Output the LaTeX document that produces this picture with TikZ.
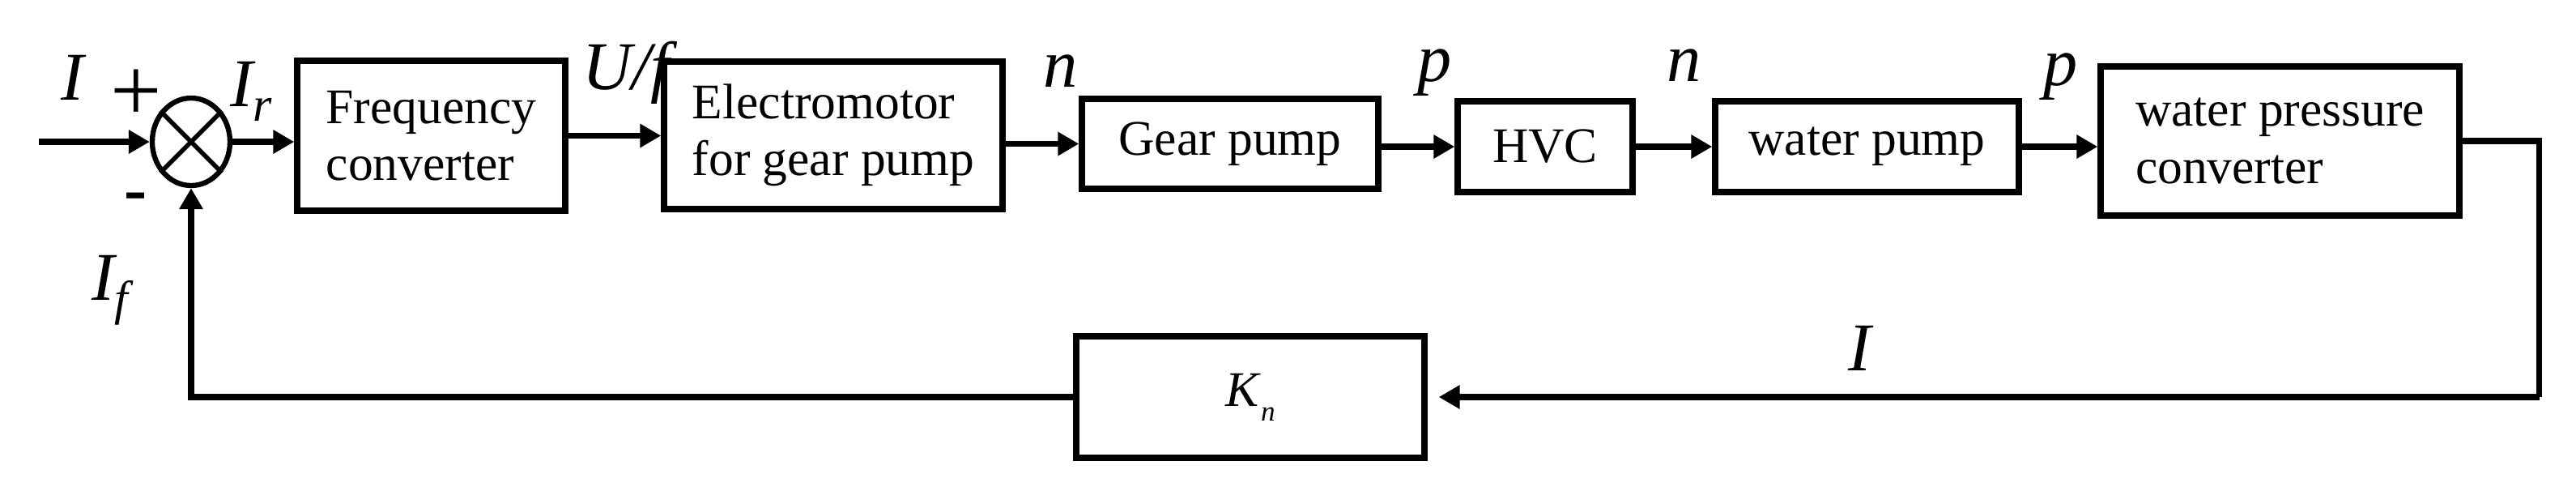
\documentclass[tikz,border=0pt]{standalone}
\usepackage{fontspec}
\setmainfont{Liberation Serif}
\usetikzlibrary{calc,arrows.meta,shapes.geometric}

\tikzset{
  blk/.style={draw, rectangle, line width=2.1pt, inner sep=0pt, align=left,
    font=\fontsize{17.5}{20}\selectfont},
  sig/.style={line width=2pt},
  arr/.style={sig, -{Triangle[length=0.26cm, width=0.28cm]}},
  lbl/.style={inner sep=0pt, anchor=base, font=\fontsize{24}{24}\selectfont\itshape},
  sgn/.style={inner sep=0pt, anchor=center},
}
\newcommand{\sigsub}[3][17]{#2\raisebox{-0.18cm}{\fontsize{#1}{#1}\selectfont #3}}

\begin{document}
\begin{tikzpicture}
  \useasboundingbox (0,0) rectangle (31.81,-6);
  \node[draw, ellipse, line width=1.8pt, minimum width=0.96cm, minimum height=1.08cm, inner sep=0pt] (s1) at (2.36,-1.75) {};
  \draw[line width=1.6pt] (s1.135) -- (s1.-45) (s1.45) -- (s1.-135);
  \coordinate (a0) at ($(s1) + (-1.88cm, 0cm)$);
  \node[blk, minimum width=3.31cm, minimum height=1.85cm] at ($(s1) + (2.965cm, 0.075cm)$) (b1){Frequency\\converter};
  \node[blk, minimum width=4.18cm, minimum height=1.82cm] at ($(s1) + (7.93cm, 0.08cm)$) (b2){Electromotor\\for gear pump};
  \node[blk, minimum width=3.66cm, minimum height=1.11cm] at ($(s1) + (12.83cm, -0.025cm)$) (b3){Gear pump};
  \node[blk, minimum width=2.16cm, minimum height=1.12cm] at ($(s1) + (16.72cm, -0.06cm)$) (b4){HVC};
  \node[blk, minimum width=3.75cm, minimum height=1.12cm] at ($(s1) + (20.695cm, -0.06cm)$) (b5){water pump};
  \node[blk, minimum width=4.43cm, minimum height=1.84cm] at ($(s1) + (25.795cm, 0.01cm)$) (b6){water pressure\\converter};
  \node[blk, minimum width=4.30cm, minimum height=1.50cm] at ($(s1) + (13.08cm, -3.15cm)$) (k1){\sigsub[10]{\textit{K}}{\textit{n}}};
  \coordinate (c1) at ($(b6.east) + (0.95cm, 0cm)$);
  \coordinate (c2) at (c1 |- k1);

  \node[lbl] at ($(s1) + (-1.46cm, 0.52cm)$) (l1){I};
  \node[sgn, font=\fontsize{32}{32}\selectfont] at ($(s1) + (-0.68cm, 0.57cm)$) (l2){+};
  \node[sgn, font=\fontsize{24}{24}\selectfont\bfseries] at ($(s1) + (-0.68cm, -0.75cm)$) (l3){-};
  \node[lbl] at ($(s1) + (0.74cm, 0.44cm)$) (l4){\sigsub{I}{r}};
  \node[lbl] at ($(s1) + (-1.0cm, -1.95cm)$) (l5){\sigsub{I}{f}};
  \node[lbl] at ($(s1) + (5.37cm, 0.65cm)$) (l6){U/f};
  \node[lbl] at ($(s1) + (10.74cm, 0.68cm)$) (l7){n};
  \node[lbl] at ($(s1) + (15.36cm, 0.75cm)$) (l8){p};
  \node[lbl] at ($(s1) + (18.44cm, 0.75cm)$) (l9){n};
  \node[lbl] at ($(s1) + (23.09cm, 0.70cm)$) (l10){p};
  \node[lbl] at ($(s1) + (20.61cm, -2.82cm)$) (l11){I};

  \draw[arr] (a0) -- (s1);
  \draw[arr] (s1) -- (s1 -| b1.west);
  \draw[arr] (b1.east) -- (b1.east -| b2.west);
  \draw[arr] (b2.east |- b3) -- (b3.west);
  \draw[arr] (b3.east |- b4) -- (b4.west);
  \draw[arr] (b4.east) -- (b5.west);
  \draw[arr] (b5.east) -- (b5.east -| b6.west);
  \draw[sig] (b6.east) -- (c1) -- (c2);
  \draw[arr, shorten >=0.14cm] (c2) -- (k1.east);
  \draw[arr] (k1.west) -- (k1.west -| s1) -- (s1.south);
\end{tikzpicture}
\end{document}
